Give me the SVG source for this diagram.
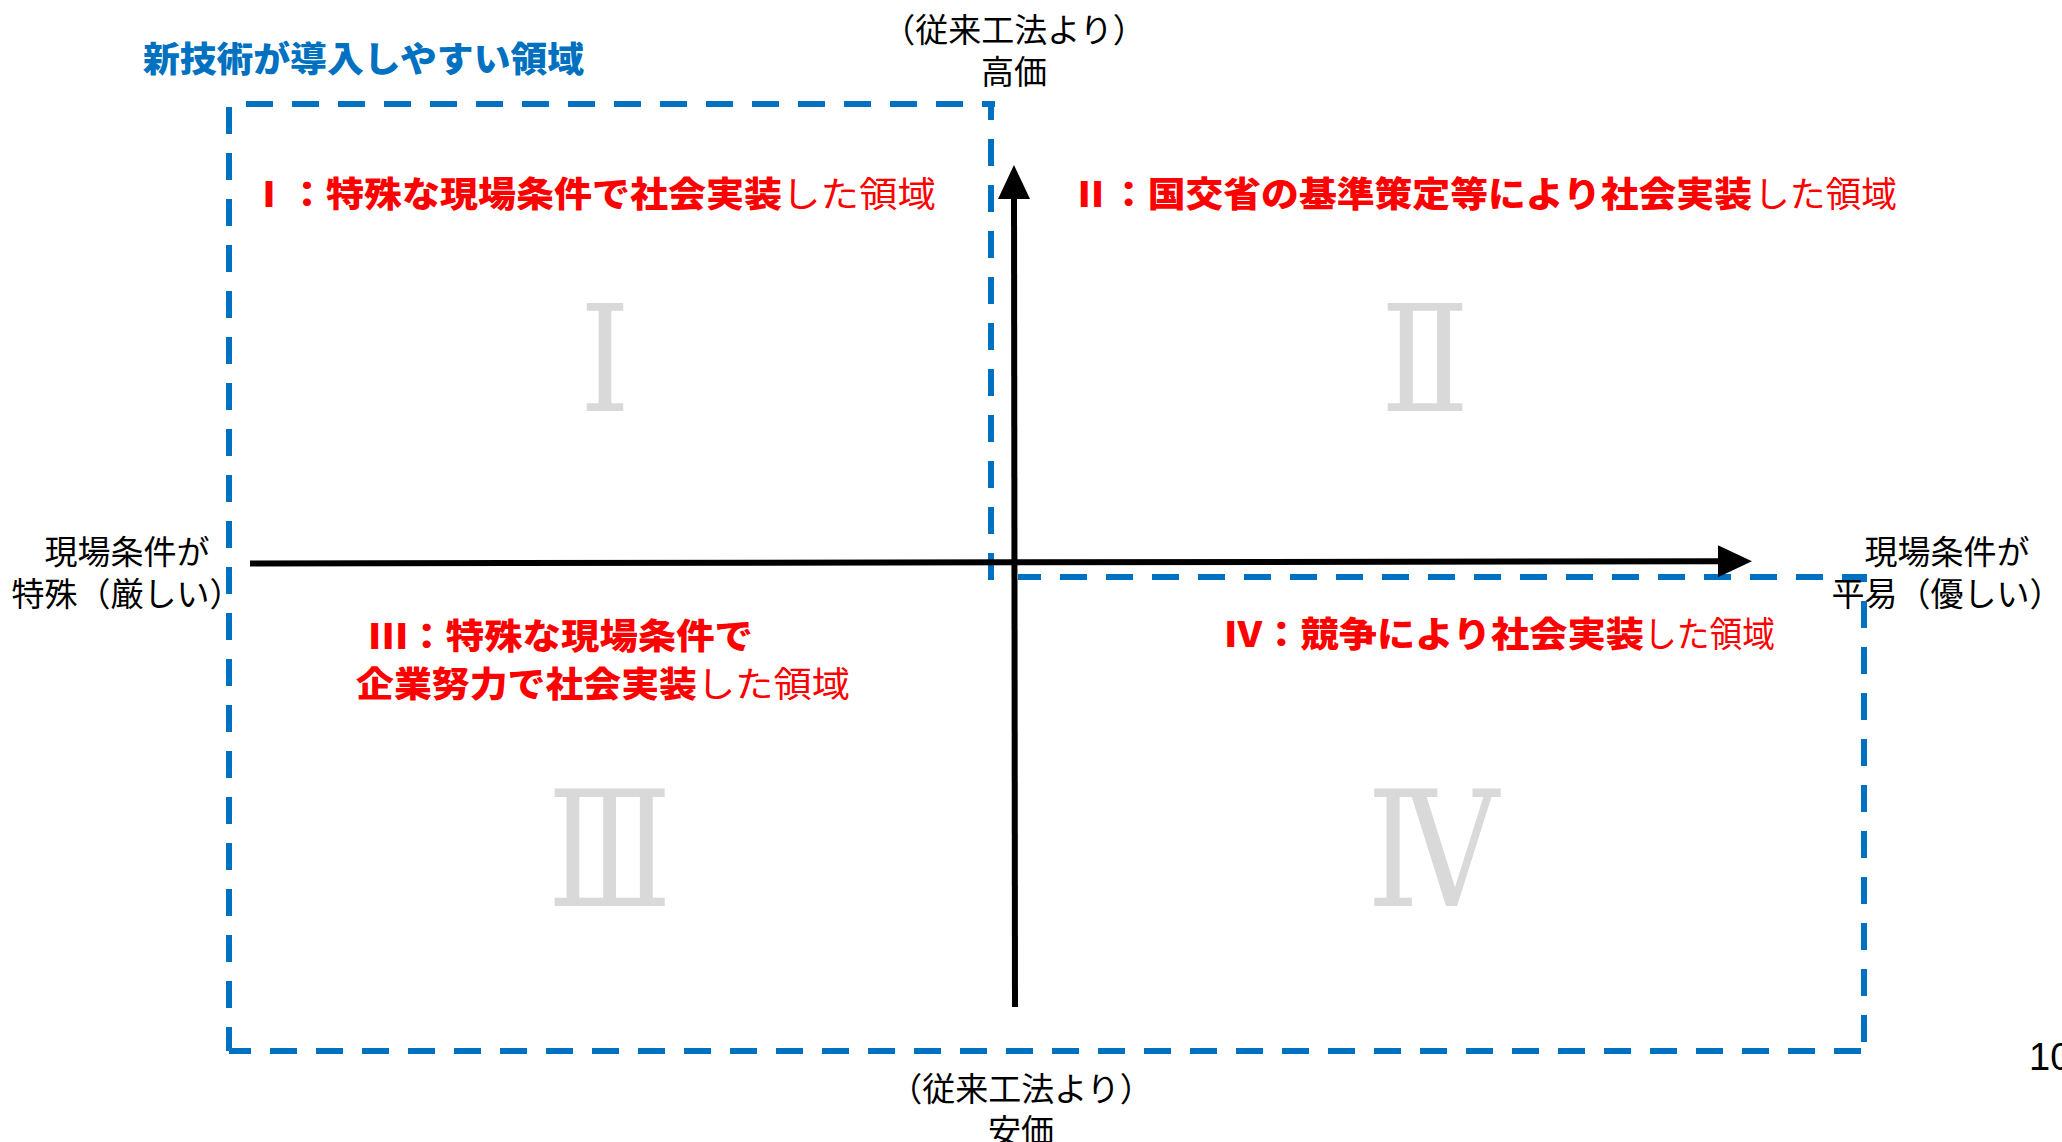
<svg xmlns="http://www.w3.org/2000/svg" width="2062" height="1142" viewBox="0 0 2062 1142">
<style>
  .dash { fill:none; stroke:#0070C0; stroke-width:6; stroke-dasharray:27 19; }
  .axis { fill:none; stroke:#000000; stroke-width:6; }
  .lbl { font-family:"Noto Sans CJK JP", sans-serif; font-size:33px; fill:#000000; text-anchor:middle; }
  .red { font-family:"Noto Sans CJK JP", sans-serif; font-size:35px; fill:#FF0000; }
  .b { font-weight:900; }
  .r { font-weight:400; }
  .title { font-family:"Noto Sans CJK JP", sans-serif; font-size:35px; font-weight:900; fill:#0070C0; }
  .num { font-family:"Liberation Serif", "DejaVu Serif", serif; fill:#D9D9D9; text-anchor:middle; }
  .page { font-family:"Liberation Sans", Arial, sans-serif; font-size:38px; fill:#000000; }
</style>
<defs>
  <marker id="arrow" markerUnits="userSpaceOnUse" viewBox="0 0 34 32" markerWidth="34" markerHeight="32" refX="4" refY="16" orient="auto">
    <path d="M0,0 L34,16 L0,32 Z" fill="#000000"/>
  </marker>
</defs>

<g id="title">
  <text class="title" x="143" y="72" textLength="441" lengthAdjust="spacingAndGlyphs">新技術が導入しやすい領域</text>
</g>

<g id="axis-labels">
  <text class="lbl" x="1014" y="42">（従来工法より）</text>
  <text class="lbl" x="1014" y="84">高価</text>
  <text class="lbl" x="1021" y="1101">（従来工法より）</text>
  <text class="lbl" x="1021" y="1143">安価</text>
  <text class="lbl" x="127" y="564">現場条件が</text>
  <text class="lbl" x="127" y="606">特殊（厳しい）</text>
  <text class="lbl" x="1947" y="564">現場条件が</text>
  <text class="lbl" x="1947" y="606">平易（優しい）</text>
</g>

<g id="quadrant-numerals">
  <text class="num" transform="translate(605,411) scale(0.87,1)" font-size="147">Ⅰ</text>
  <text class="num" transform="translate(1425,411) scale(0.89,1)" font-size="147">Ⅱ</text>
  <text class="num" transform="translate(609.5,906) scale(0.8,1)" font-size="161">Ⅲ</text>
  <text class="num" transform="translate(1433,906) scale(0.82,1)" font-size="161">Ⅳ</text>
</g>

<g id="label-q1">
  <text class="red b" x="250" y="207" textLength="532" lengthAdjust="spacingAndGlyphs">Ⅰ：特殊な現場条件で社会実装</text>
  <text class="red r" x="782" y="207" textLength="154" lengthAdjust="spacingAndGlyphs">した領域</text>
</g>
<g id="label-q2">
  <text class="red b" x="1072" y="207" textLength="680" lengthAdjust="spacingAndGlyphs">Ⅱ：国交省の基準策定等により社会実装</text>
  <text class="red r" x="1754" y="207" textLength="143" lengthAdjust="spacingAndGlyphs">した領域</text>
</g>
<g id="label-q3">
  <text class="red b" x="369" y="649" textLength="384" lengthAdjust="spacingAndGlyphs">Ⅲ：特殊な現場条件で</text>
  <text class="red b" x="356" y="697" textLength="341" lengthAdjust="spacingAndGlyphs">企業努力で社会実装</text>
  <text class="red r" x="697" y="697" textLength="153" lengthAdjust="spacingAndGlyphs">した領域</text>
</g>
<g id="label-q4">
  <text class="red b" x="1224" y="647" textLength="420" lengthAdjust="spacingAndGlyphs">Ⅳ：競争により社会実装</text>
  <text class="red r" x="1644" y="647" textLength="131" lengthAdjust="spacingAndGlyphs">した領域</text>
</g>

<g id="region-outline">
  <path class="dash" d="M229,104 H995" stroke-dashoffset="29"/>
  <path class="dash" d="M991,104 V580" stroke-dashoffset="11"/>
  <path class="dash" d="M229,104 V1051" stroke-dashoffset="43"/>
  <path class="dash" d="M229,1051 H1864" stroke-dashoffset="5"/>
  <path class="dash" d="M1018,577 H1864 V1051" stroke-dashoffset="4"/>
</g>

<g id="connectors">
  <line class="axis" x1="250" y1="563.5" x2="1722" y2="561.2" marker-end="url(#arrow)"/>
  <line class="axis" x1="1015" y1="1007" x2="1014" y2="195" marker-end="url(#arrow)"/>
</g>

<g id="page-number">
  <text class="page" x="2029" y="1070">10</text>
</g>
</svg>
